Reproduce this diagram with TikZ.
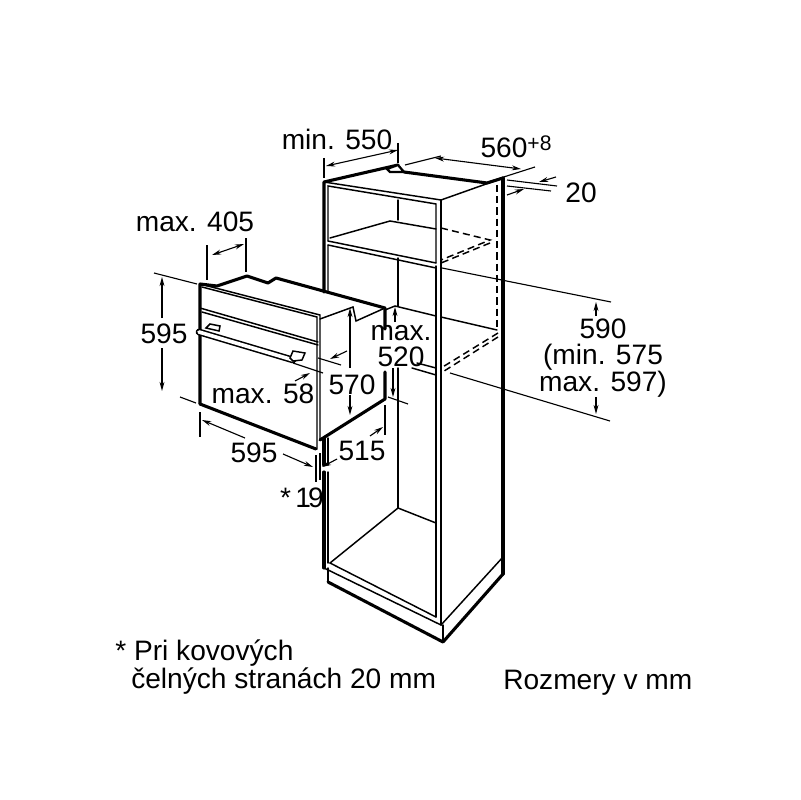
\documentclass[tikz,border=0pt]{standalone}
\usepackage{fontspec}
\setmainfont{Liberation Sans}
\usetikzlibrary{arrows.meta}
\tikzset{
  thinline/.style={black,line width=1.05pt,line cap=round},
  heavyline/.style={black,line width=2.2pt,line cap=round,line join=round},
  hiddenline/.style={black,line width=1.05pt,dash pattern=on 5pt off 3pt},
  dimline/.style={black,line width=0.8pt},
  dimarrow/.style={black,line width=0.8pt,-{Stealth[length=6.5pt,width=3.5pt]}},
  bothtips/.style={black,line width=0.8pt,{Stealth[length=6.5pt,width=3.5pt]}-{Stealth[length=6.5pt,width=3.5pt]}},
  dimtext/.style={black,inner sep=0pt,font=\fontsize{20}{18.5}\selectfont,align=center}
}
\begin{document}
\begin{tikzpicture}[x=0.025cm,y=-0.025cm]
\useasboundingbox (0,0) rectangle (800,800);
% cabinet
\draw [heavyline] (324,292)--(324,182)--(398,165);
\draw [heavyline] (324,438)--(324,465) (324,472)--(324,568);
\draw [thinline] (328,292)--(328,245) (328,241)--(328,186)--(436,204)--(436,263);
\draw [thinline] (328,438)--(328,465) (328,472)--(328,563);
\draw [thinline] (324,182)--(441,200)--(503,178);
\draw [thinline] (441,200)--(441,625);
\draw [thinline] (436,266)--(436,617);
\draw [heavyline] (404,172)--(487,183)--(503,178);
\draw [heavyline] (503,178)--(503,574);
\draw [thinline,fill=white,line width=1.6pt] (387,169)--(398,165)--(404,172)--(390,172)--cycle;
% shelves
\draw [thinline] (398,200)--(398,220);
\draw [thinline] (330,238)--(390,221)--(436,229);
\draw [thinline] (328,241)--(436,263) (328,245)--(436,268);
\draw [thinline] (398,258)--(398,306);
\draw [thinline] (385,310)--(395,306)--(436,316) (441,317)--(497,330);
\draw [thinline] (417,363)--(436,368) (412,368)--(436,375);
\draw [thinline] (398,368)--(398,508);
\draw [hiddenline] (441,228)--(490,240)--(441,260);
\draw [hiddenline] (490,243)--(441,263);
\draw [hiddenline] (497,185)--(497,330);
\draw [hiddenline] (498,333)--(441,368) (498,337)--(441,373);
% floor and plinth
\draw [thinline] (398,508)--(330,563)--(436,617);
\draw [thinline] (398,508)--(436,523);
\draw [thinline] (324,568)--(441,625)--(503,557);
\draw [thinline] (328,568)--(328,582);
\draw [thinline] (443,625)--(443,642);
\draw [heavyline] (328,582)--(443,642)--(503,574);
% oven
\draw [heavyline] (200,404)--(200,284)--(217,286)--(247,276)--(268,283)--(276,278)--(385,308)--(385,329);
\draw [heavyline] (385,372)--(385,399)--(320,440);
\draw [heavyline] (200,404)--(316,449);
\draw [thinline] (200,284)--(320,315)--(320,440);
\draw [thinline] (202,287)--(317,317)--(317,449);
\draw [thinline] (320,319)--(353,307)--(356,321)--(385,308);
\draw [thinline] (200,308)--(318,342) (202,312)--(318,345);
% handle
\draw [black,line width=4.8pt,line cap=round] (199,332)--(293,360);
\draw [white,line width=2.6pt,line cap=round] (199,332)--(293,360);
\draw [thinline,fill=white] (206,328)--(210,324)--(220,326)--(219,331)--cycle;
\draw [thinline,fill=white] (290,358)--(293,351)--(305,353)--(302,360)--(293,361)--cycle;
% dimensions on top
\draw [dimline] (324,158)--(324,178) (398,143)--(398,163);
\draw [bothtips] (326,166)--(398,150);
\node (minDepth) at (337,139) [dimtext]{min. 550};
\draw [dimline] (405,165)--(441,156) (488,182)--(535,167);
\draw [bothtips] (435,158)--(521,169);
\node (cabWidth) at (516,147) [dimtext]{560\raisebox{5pt}{\fontsize{15}{16}\selectfont+8}};
\draw [dimline] (507,180)--(557,186) (507,186)--(551,191);
\draw [dimarrow] (556,177)--(539,182);
\draw [dimarrow] (507,195)--(524,189);
\node (gapTop) at (581,193) [dimtext]{20};
% dimensions on the right
\draw [dimline] (442,268)--(611,302) (450,373)--(610,421);
\draw [dimarrow] (596,316)--(596,302);
\draw [dimarrow] (596,397)--(596,414);
\node (nicheHeight) at (603,358) [dimtext]{590\hspace{7pt}\\(min. 575\\max. 597)};
% dimensions of the oven
\draw [dimline] (207,245)--(207,280) (246,238)--(246,272);
\draw [bothtips] (212,255)--(244,244);
\node (ovenDepth) at (195,222) [dimtext]{max. 405};
\draw [dimline] (154,273)--(197,284) (180,397)--(196,403);
\draw [dimarrow] (162,318)--(162,277);
\draw [dimarrow] (162,348)--(162,391);
\node (ovenHeight) at (164,334) [dimtext]{595};
\draw [dimline] (293,363)--(323,373) (318,358)--(341,365);
\draw [dimarrow] (347,351)--(330,359);
\draw [dimarrow] (295,381)--(310,373);
\node (frontDepth) at (263,394) [dimtext]{max. 58};
\draw [dimarrow] (350,368)--(350,308);
\draw [dimarrow] (350,395)--(350,415);
\node (ovenBack) at (352,385) [dimtext]{570};
\draw [dimline] (200,412)--(200,437) (316,455)--(316,482) (320,453)--(320,480);
\draw [dimarrow] (245,438)--(202,420);
\draw [dimarrow] (283,454)--(313,467);
\node (ovenWidth) at (254,453) [dimtext]{595};
\draw [dimline] (385,405)--(385,435);
\draw [dimarrow] (370,436)--(383,427);
\draw [dimarrow] (337,459)--(322,467);
\node (sideDepth) at (362,451) [dimtext]{515};
\node (frontGap) at (302,498) [dimtext]{*\hspace{3pt}1\hspace{-2pt}9};
\draw [dimarrow] (395,322)--(395,307);
\draw [dimarrow] (393,368)--(393,397);
\draw [dimline] (388,397)--(408,404);
\node (nicheDepth) at (401,346) [dimtext]{max.\\520\hspace{9pt}};
% notes
\node (noteStar) at (115,653) [dimtext,anchor=west]{* Pri kovových};
\node (noteFront) at (131,681) [dimtext,anchor=west]{čelných stranách 20 mm};
\node (noteUnit) at (503,683) [dimtext,anchor=west]{Rozmery v mm};
\end{tikzpicture}
\end{document}
